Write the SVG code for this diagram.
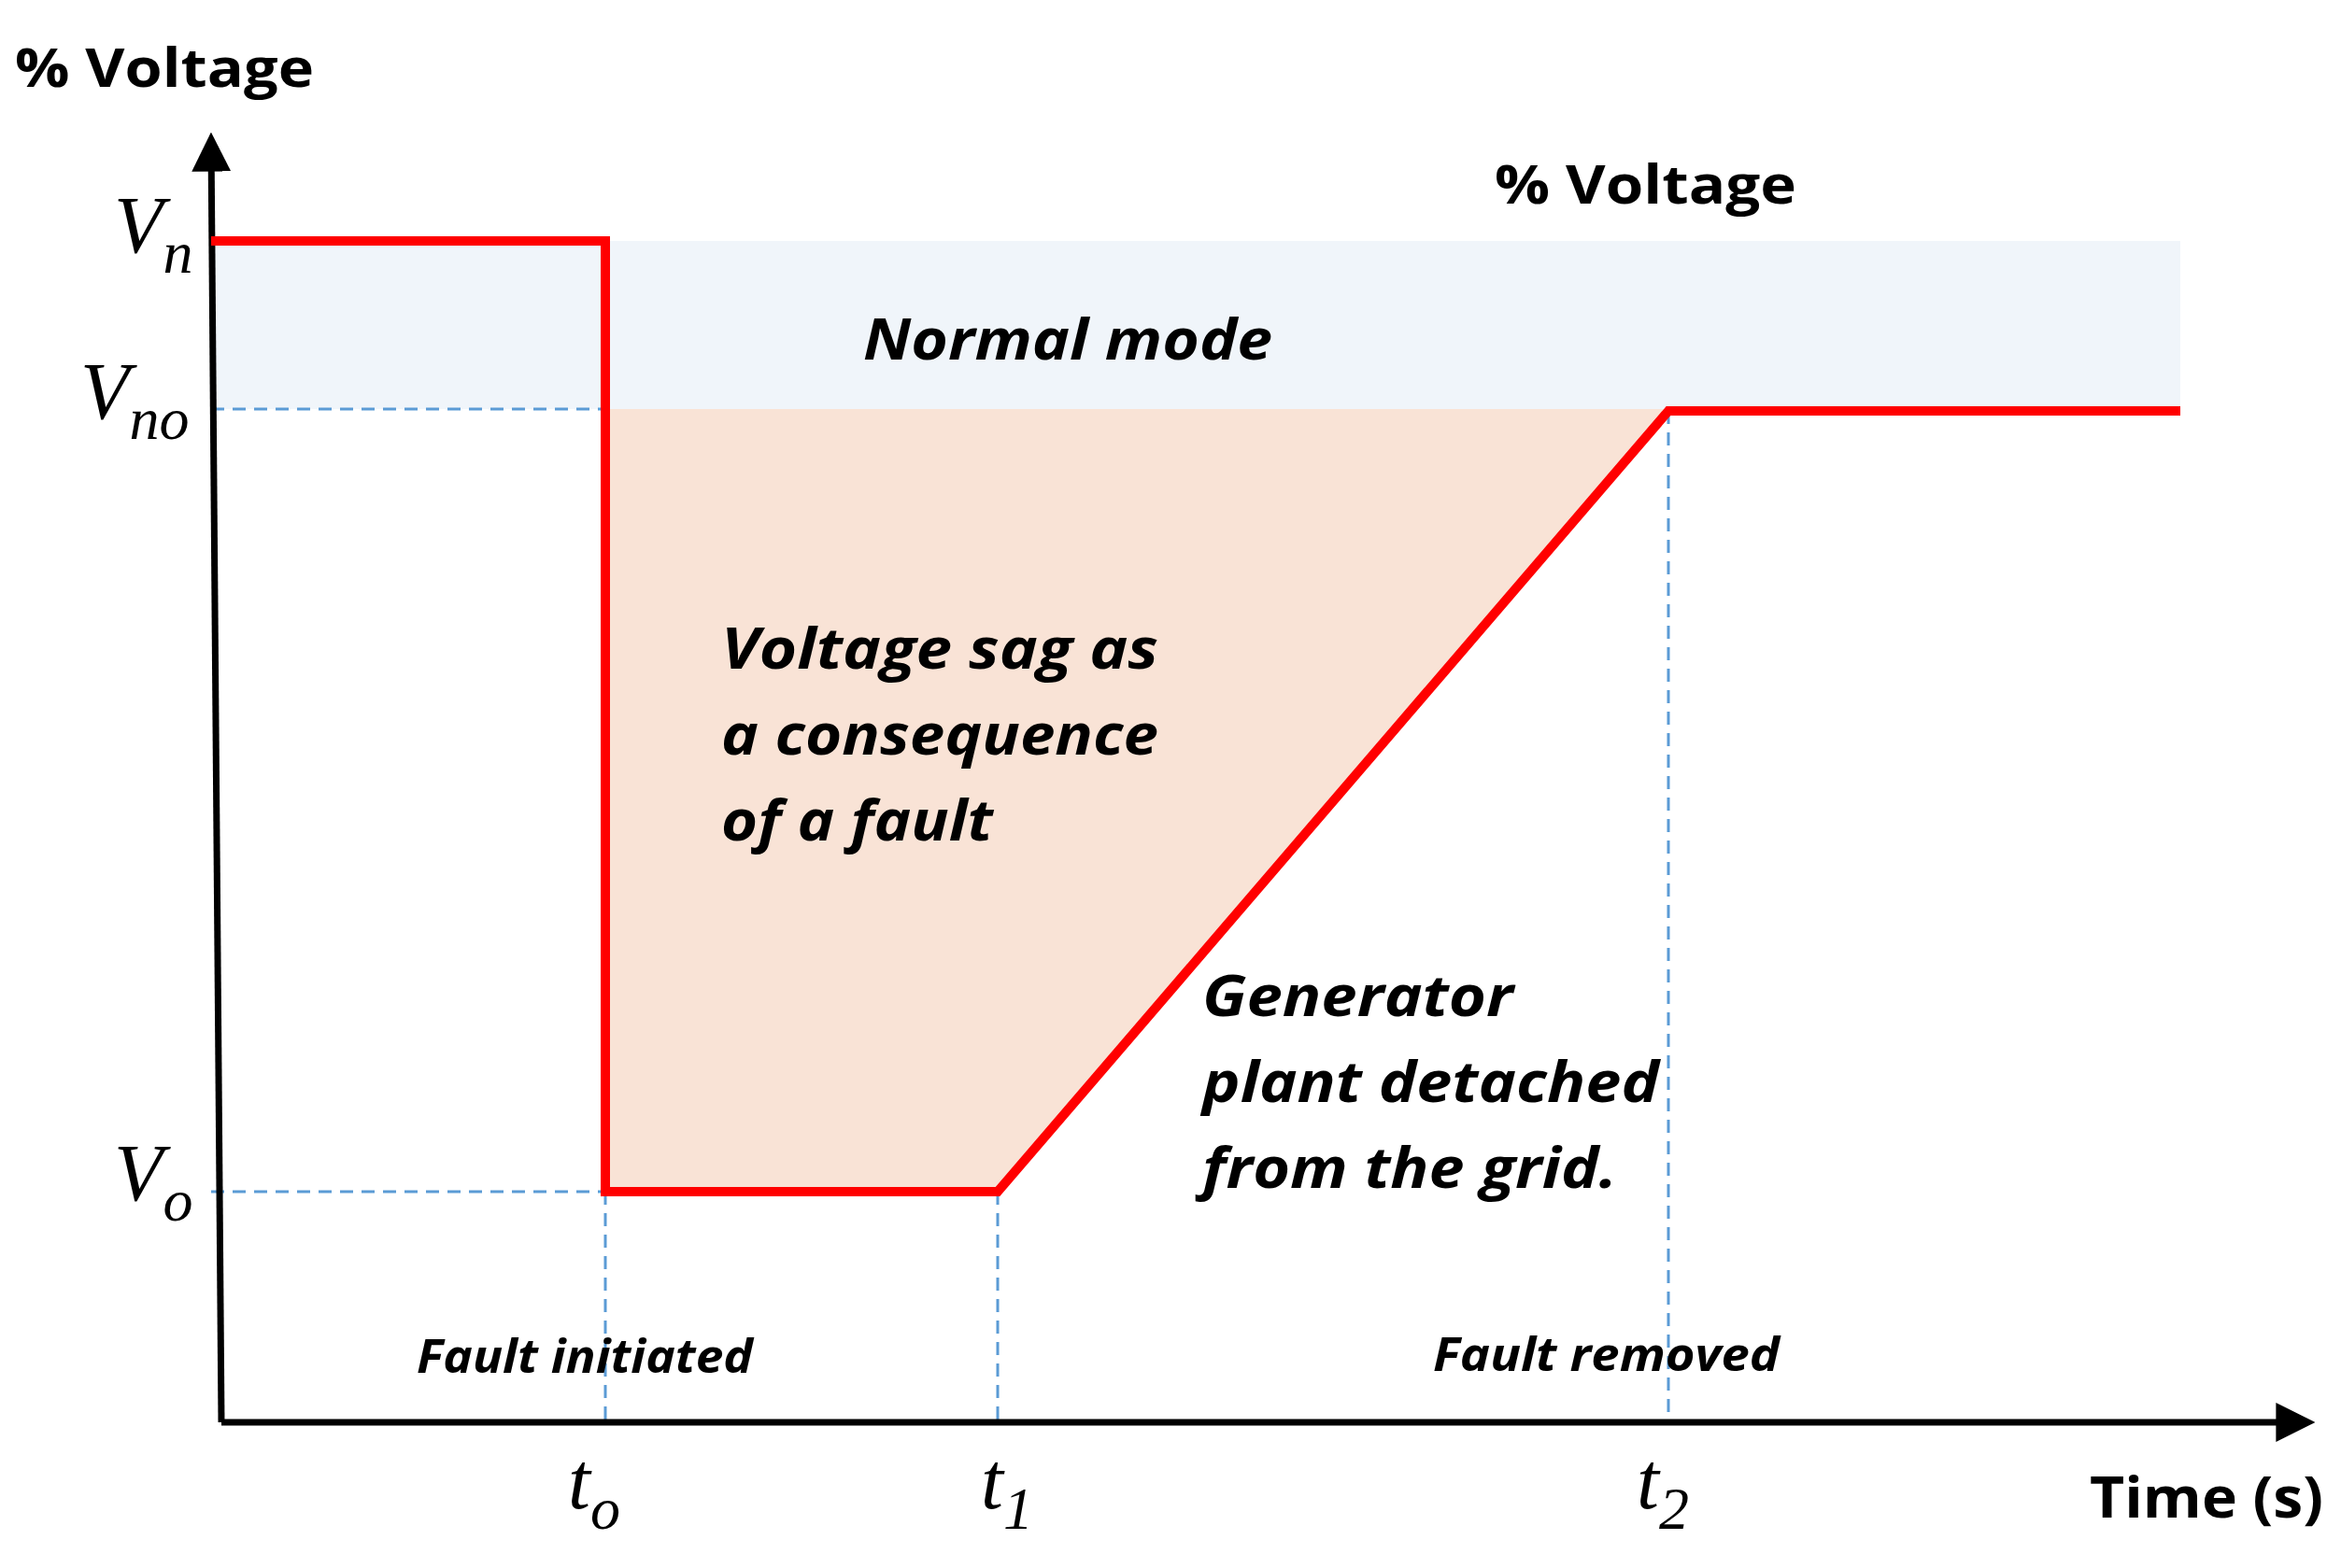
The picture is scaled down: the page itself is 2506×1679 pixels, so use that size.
<svg xmlns="http://www.w3.org/2000/svg" width="2506" height="1679" viewBox="0 0 2506 1679">
<style>
.b{font-family:"Open Sans","Liberation Sans",sans-serif;font-weight:bold;fill:#000}
.bi{font-family:"Open Sans","Liberation Sans",sans-serif;font-weight:bold;font-style:italic;fill:#000}
.m{font-family:"Liberation Serif","DejaVu Serif",serif;font-style:italic;fill:#000}
.d{stroke:#5b9bd5;stroke-width:3;stroke-dasharray:14 9;fill:none}
</style>
<defs><marker id="ah" markerWidth="10" markerHeight="10" refX="2" refY="5" orient="auto" markerUnits="userSpaceOnUse" viewBox="0 0 10 10"><path d="M0,0 L10,5 L0,10z" fill="#000"/></marker>
<marker id="a" viewBox="0 0 10 10" refX="8" refY="5" markerWidth="6" markerHeight="6" orient="auto"><path d="M0,0 L10,5 L0,10z" fill="#000"/></marker></defs>
<rect width="2506" height="1679" fill="#fff"/>
<g id="regions">
<rect x="226" y="258" width="2108" height="180" fill="#f0f5fa"/>
<polygon points="648,438 1786,438 1068,1276 648,1276" fill="#f9e3d6"/>
</g>
<g id="connectors">
<path class="d" d="M226,438H648M226,1276H648M648,1276V1523M1068,1276V1523M1786,440V1523"/>
<path d="M237,1523 L226,150" stroke="#000" stroke-width="7" fill="none" marker-end="url(#a)"/>
<path d="M237,1523 H2470" stroke="#000" stroke-width="7" fill="none" marker-end="url(#a)"/>
<polyline points="226,258 648,258 648,1276 1068,1276 1786,440 2334,440" fill="none" stroke="#ff0000" stroke-width="10"/>
</g>
<g id="labels">
<text class="b" x="16" y="93" font-size="58" textLength="320" lengthAdjust="spacingAndGlyphs">% Voltage</text>
<text class="b" x="1600" y="218" font-size="58" textLength="323" lengthAdjust="spacingAndGlyphs">% Voltage</text>
<text class="bi" x="924" y="385" font-size="60" textLength="438" lengthAdjust="spacingAndGlyphs">Normal mode</text>
<text class="bi" x="772" y="716" font-size="60" textLength="468" lengthAdjust="spacingAndGlyphs">Voltage sag as</text>
<text class="bi" x="772" y="808" font-size="60" textLength="468" lengthAdjust="spacingAndGlyphs">a consequence</text>
<text class="bi" x="772" y="900" font-size="60" textLength="291" lengthAdjust="spacingAndGlyphs">of a fault</text>
<text class="bi" x="1287" y="1088" font-size="60" textLength="333" lengthAdjust="spacingAndGlyphs">Generator</text>
<text class="bi" x="1287" y="1180" font-size="60" textLength="489" lengthAdjust="spacingAndGlyphs">plant detached</text>
<text class="bi" x="1287" y="1272" font-size="60" textLength="444" lengthAdjust="spacingAndGlyphs">from the grid.</text>
<text class="bi" x="446" y="1470" font-size="50" textLength="360" lengthAdjust="spacingAndGlyphs">Fault initiated</text>
<text class="bi" x="1534" y="1468" font-size="50" textLength="371" lengthAdjust="spacingAndGlyphs">Fault removed</text>
<text class="b" x="2237" y="1625" font-size="60" textLength="250" lengthAdjust="spacingAndGlyphs">Time (s)</text>
<text class="m" x="122" y="270" font-size="86">V<tspan font-size="64" dy="22">n</tspan></text>
<text class="m" x="86" y="448" font-size="86">V<tspan font-size="64" dy="22">no</tspan></text>
<text class="m" x="122" y="1285" font-size="86">V<tspan font-size="64" dy="22">o</tspan></text>
<text class="m" x="608" y="1615" font-size="86">t<tspan font-size="64" dy="22">o</tspan></text>
<text class="m" x="1050" y="1615" font-size="86">t<tspan font-size="64" dy="22">1</tspan></text>
<text class="m" x="1752" y="1615" font-size="86">t<tspan font-size="64" dy="22">2</tspan></text>
</g>
</svg>
